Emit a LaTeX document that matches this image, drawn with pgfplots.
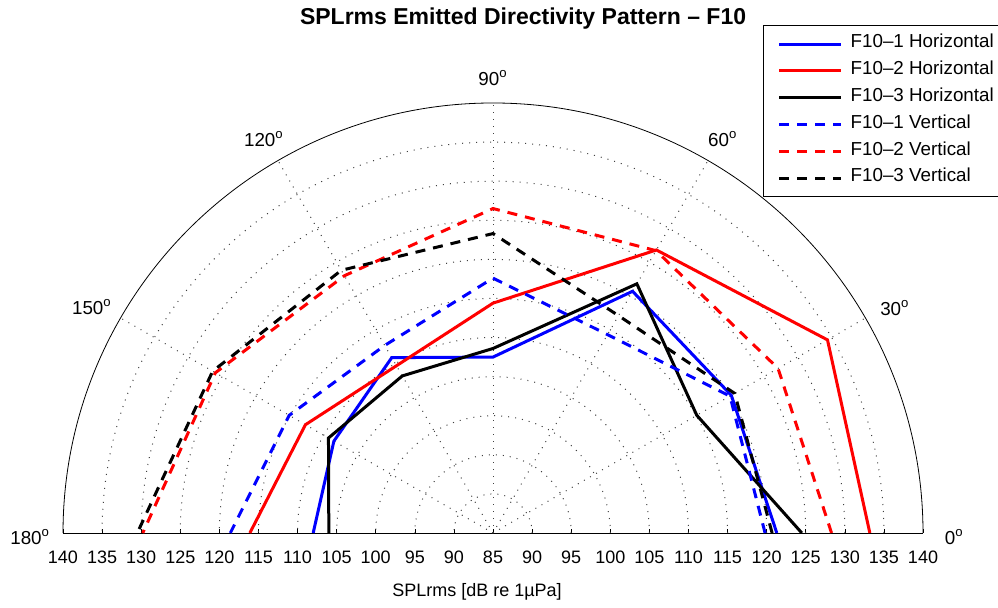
\documentclass[border=0pt]{standalone}
\usepackage{fontspec}
\setmainfont{Liberation Sans}
\usepackage{pgfplots}
\usepackage{pgfplotstable}
\pgfplotsset{compat=1.18}

% angle (deg)  SPLrms (dB re 1 uPa)
\pgfplotstableread{
t r
0 121.3
30 120.2
60 120.7
90 107.5
120 110.9
150 108.5
180 108.0
}\HA
\pgfplotstableread{
t r
0 133.2
30 134.4
60 126.8
90 114.4
120 109.7
150 112.7
180 116.1
}\HB
\pgfplotstableread{
t r
0 124.5
30 115.1
60 121.8
90 108.6
120 108.2
150 109.3
180 106.0
}\HC
\pgfplotstableread{
t r
0 119.8
30 120.0
60 114.3
90 117.6
120 112.7
150 115.1
180 118.6
}\VA
\pgfplotstableread{
t r
0 128.3
30 127.1
60 126.7
90 126.5
120 123.0
150 126.0
180 129.8
}\VB
\pgfplotstableread{
t r
0 120.7
30 120.7
60 117.1
90 123.3
120 123.8
150 126.4
180 130.5
}\VC

\definecolor{mblue}{RGB}{0,0,255}
\definecolor{mred}{RGB}{255,0,0}

\begin{document}
\begin{tikzpicture}
\begin{axis}[
  at={(0,0)}, anchor=south west,
  scale only axis, width=430pt, height=215pt,
  xmin=-55, xmax=55, ymin=0, ymax=55,
  clip=false,
  axis x line=bottom, axis y line=none,
  x axis line style={-, line width=0.4pt},
  xtick={-55,-50,...,55},
  xticklabels={140,135,130,125,120,115,110,105,100,95,90,85,90,95,100,105,110,115,120,125,130,135,140},
  tick align=inside, major tick length=2pt,
  tick style={line width=0.3pt, black},
  xticklabel style={font=\fontsize{9}{10}\selectfont, yshift=-5.5pt},
  legend style={at={(rel axis cs:0.814,1.181)}, anchor=north west,
    draw=black, line width=0.6pt, font=\fontsize{9.4}{11}\selectfont,
    inner xsep=7pt, inner ysep=2.5pt, row sep=0pt,
    nodes={inner xsep=4pt, inner ysep=0pt, text height=8.6pt, text depth=4.8pt}},
  legend cell align=left,
  legend image code/.code={\draw[#1] (0pt,0pt) -- (31pt,0pt);},
]
% grid
\pgfplotsinvokeforeach{5,10,...,50}{
  \draw[black!75, line width=0.5pt, dash pattern=on 0.5pt off 3pt] (axis cs:#1,0) arc[start angle=0, end angle=180, radius=#1*3.90909pt];
}
\pgfplotsinvokeforeach{30,60,90,120,150}{
  \draw[black!75, line width=0.5pt, dash pattern=on 0.5pt off 3pt] (axis cs:0,0) -- (axis cs:{55*cos(#1)},{55*sin(#1)});
}
\draw[black, line width=0.4pt] (axis cs:55,0) arc[start angle=0, end angle=180, radius=55*3.90909pt];

\addplot[mblue, line width=1.5pt, sharp plot] table[x expr={(\thisrow{r}-85)*cos(\thisrow{t})}, y expr={(\thisrow{r}-85)*sin(\thisrow{t})}] {\HA};
\addlegendentry{F10–1 Horizontal}
\addplot[mred, line width=1.5pt, sharp plot] table[x expr={(\thisrow{r}-85)*cos(\thisrow{t})}, y expr={(\thisrow{r}-85)*sin(\thisrow{t})}] {\HB};
\addlegendentry{F10–2 Horizontal}
\addplot[black, line width=1.5pt, sharp plot] table[x expr={(\thisrow{r}-85)*cos(\thisrow{t})}, y expr={(\thisrow{r}-85)*sin(\thisrow{t})}] {\HC};
\addlegendentry{F10–3 Horizontal}
\addplot[mblue, line width=1.5pt, dash pattern=on 5pt off 4pt, sharp plot] table[x expr={(\thisrow{r}-85)*cos(\thisrow{t})}, y expr={(\thisrow{r}-85)*sin(\thisrow{t})}] {\VA};
\addlegendentry{F10–1 Vertical}
\addplot[mred, line width=1.5pt, dash pattern=on 5pt off 4pt, sharp plot] table[x expr={(\thisrow{r}-85)*cos(\thisrow{t})}, y expr={(\thisrow{r}-85)*sin(\thisrow{t})}] {\VB};
\addlegendentry{F10–2 Vertical}
\addplot[black, line width=1.5pt, dash pattern=on 5pt off 4pt, sharp plot] table[x expr={(\thisrow{r}-85)*cos(\thisrow{t})}, y expr={(\thisrow{r}-85)*sin(\thisrow{t})}] {\VC};
\addlegendentry{F10–3 Vertical}

% angle labels
\node[font=\fontsize{9.4}{11}\selectfont] at (axis cs:59,-0.5) {0\textsuperscript{o}};
\node[font=\fontsize{9.4}{11}\selectfont] at (axis cs:51.4,28.8) {30\textsuperscript{o}};
\node[font=\fontsize{9.4}{11}\selectfont] at (axis cs:29.4,50.4) {60\textsuperscript{o}};
\node[font=\fontsize{9.4}{11}\selectfont] at (axis cs:0,58.2) {90\textsuperscript{o}};
\node[font=\fontsize{9.4}{11}\selectfont] at (axis cs:-29.3,50.4) {120\textsuperscript{o}};
\node[font=\fontsize{9.4}{11}\selectfont] at (axis cs:-51.3,28.9) {150\textsuperscript{o}};
\node[font=\fontsize{9.4}{11}\selectfont] at (axis cs:-59.2,-0.5) {180\textsuperscript{o}};
% title and axis label
\node[font=\bfseries\fontsize{11.5}{13}\selectfont] at (axis cs:3.85,65.8) {SPLrms Emitted Directivity Pattern – F10};
\node[font=\fontsize{9}{11}\selectfont] at (axis cs:-2.05,-7.55) {SPLrms [dB re 1µPa]};
\end{axis}
\pgfresetboundingbox
\useasboundingbox (-31.5pt,-37.5pt) rectangle (467.5pt,266.5pt);
\end{tikzpicture}
\end{document}
